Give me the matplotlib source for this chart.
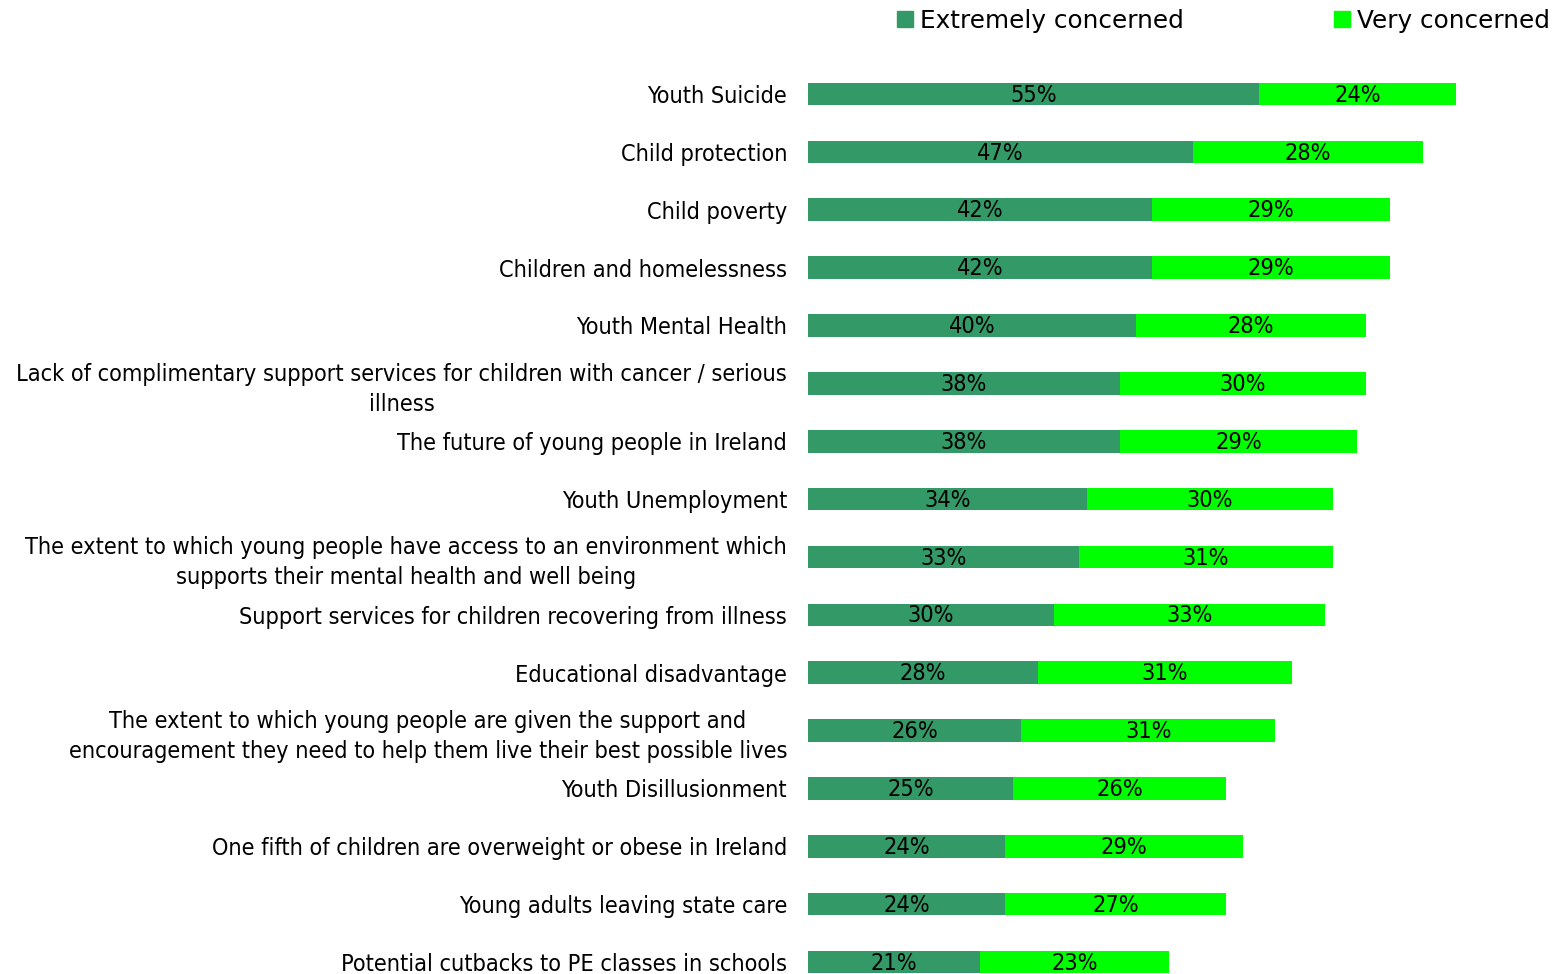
import matplotlib
matplotlib.use("Agg")
import matplotlib.pyplot as plt
from matplotlib.patches import Patch

categories = [
    "Youth Suicide",
    "Child protection",
    "Child poverty",
    "Children and homelessness",
    "Youth Mental Health",
    "Lack of complimentary support services for children with cancer / serious\nillness",
    "The future of young people in Ireland",
    "Youth Unemployment",
    "The extent to which young people have access to an environment which\nsupports their mental health and well being",
    "Support services for children recovering from illness",
    "Educational disadvantage",
    "The extent to which young people are given the support and\nencouragement they need to help them live their best possible lives",
    "Youth Disillusionment",
    "One fifth of children are overweight or obese in Ireland",
    "Young adults leaving state care",
    "Potential cutbacks to PE classes in schools",
]
extremely = [55, 47, 42, 42, 40, 38, 38, 34, 33, 30, 28, 26, 25, 24, 24, 21]
very = [24, 28, 29, 29, 28, 30, 29, 30, 31, 33, 31, 31, 26, 29, 27, 23]
series_names = ["Extremely concerned", "Very concerned"]
colors = ["#339966", "#00FF00"]

plt.rcParams['font.family'] = ['DejaVu Sans']
W, H = 1565, 974
fig = plt.figure(figsize=(W / 100, H / 100), dpi=100)
step = 57.87
top_px = 94 - step / 2
bot_px = 94 + step * 15.5
ax = fig.add_axes([808 / W, (H - bot_px) / H, (W - 808) / W, (bot_px - top_px) / H])

y = list(range(len(categories)))
fs = 16.8
bh = 0.39
ax.barh(y, extremely, height=bh, color=colors[0], label=series_names[0])
ax.barh(y, very, left=extremely, height=bh, color=colors[1], label=series_names[1])
for i in y:
    ax.text(extremely[i] / 2, i + 0.02, f"{extremely[i]}%", ha="center", va="center", fontsize=fs, color="black", fontstretch="condensed")
    ax.text(extremely[i] + very[i] / 2, i + 0.02, f"{very[i]}%", ha="center", va="center", fontsize=fs, color="black", fontstretch="condensed")

ax.set_ylim(len(categories) - 0.5, -0.5)
ax.set_xlim(0, (W - 808) / 8.2)
ax.set_yticks(y)
ax.set_yticklabels(categories, fontsize=fs, multialignment="center", fontstretch="condensed", linespacing=1.38)
ax.tick_params(axis="y", length=0, pad=15)
ax.set_xticks([])
for s in ax.spines.values():
    s.set_visible(False)

fig.legend(handles=[Patch(color=colors[0]), Patch(color=colors[1])], labels=series_names,
           loc="center left", bbox_to_anchor=(897 / W, 1 - 21 / H), ncol=2, frameon=False,
           fontsize=17.8, handlelength=0.64, handleheight=0.64, handletextpad=0.3, columnspacing=6.07,
           borderaxespad=0, borderpad=0)

fig.savefig("out.png", dpi=100)
